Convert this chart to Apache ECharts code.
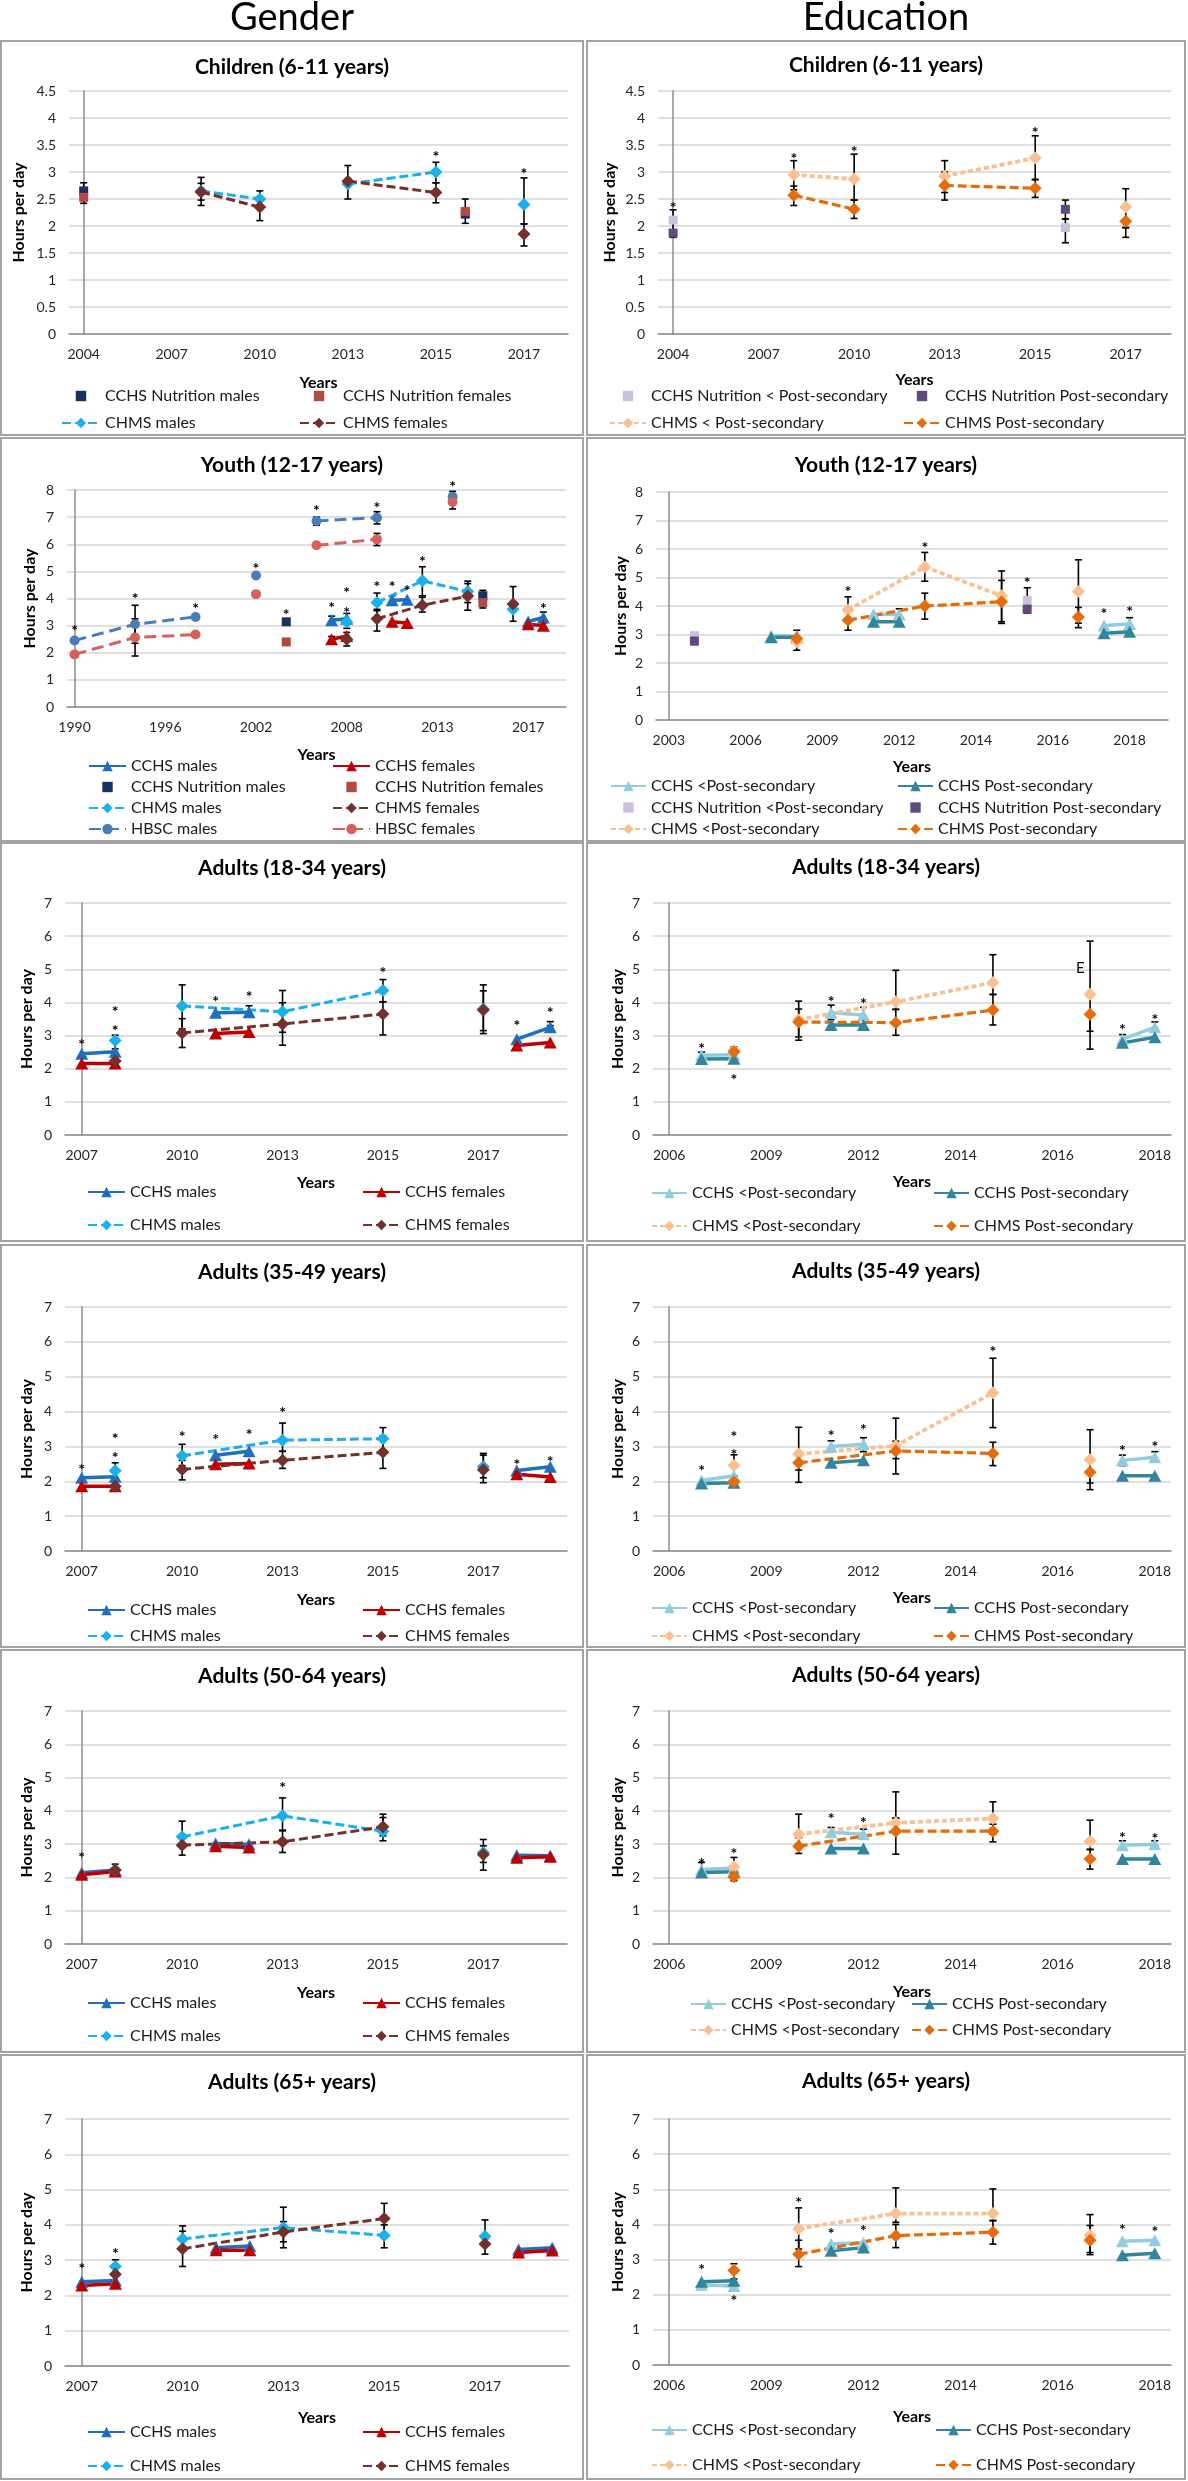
<!DOCTYPE html>
<html><head><meta charset="utf-8">
<script src="https://cdn.jsdelivr.net/npm/echarts@6/dist/echarts.min.js"></script>
<style>html,body{margin:0;padding:0;background:#fff}#c{width:1188px;height:2481px}</style>
</head><body><div id="c"></div><script>
// ---------- tick labels ----------
const lblChildren = ['2004','2007','2010','2013','2015','2017'];
const lblYouthG = ['1990','1996','2002','2008','2013','2017'];
const lblYouthE = ['2003','2006','2009','2012','2014','2016','2018'];
const lblAdultG = ['2007','2010','2013','2015','2017'];
const lblAdultE = ['2006','2009','2012','2014','2016','2018'];

// ---------- Children (6-11), gender ----------
const child_g_nutM = [[0,2.65],[13,2.22]];
const child_g_nutF = [[0,2.53],[13,2.27]];
const child_g_chmsM = [[4,2.65],[6,2.5],[7,null],[9,2.78],[12,3.0],[13,null],[15,2.4]];
const child_g_chmsF = [[4,2.63],[6,2.35],[7,null],[9,2.83],[12,2.62],[13,null],[15,1.85]];
const child_g_err = [[0,2.42,2.8],[4,2.38,2.9],[4,2.48,2.79],[6,2.37,2.65],[6,2.1,2.5],[9,2.5,3.12],[12,2.8,3.18],[12,2.43,2.8],[13,2.05,2.5],[15,2.04,2.89],[15,1.63,2.04]];
const child_g_star = [[12,3.35],[15,3.04]];

// ---------- Children (6-11), education ----------
const child_e_nutLow = [[0,2.11],[13,1.97]];
const child_e_nutPS = [[0,1.87],[13,2.31]];
const child_e_chmsLow = [[4,2.95],[6,2.87],[7,null],[9,2.92],[12,3.26],[13,null],[15,2.35]];
const child_e_chmsPS = [[4,2.57],[6,2.31],[7,null],[9,2.75],[12,2.7],[13,null],[15,2.09]];
const child_e_err = [[0,1.79,2.3],[4,2.67,3.21],[4,2.38,2.74],[6,2.48,3.33],[6,2.14,2.48],[9,2.62,3.21],[9,2.48,3.0],[12,2.86,3.67],[12,2.53,2.86],[13,2.13,2.48],[13,1.69,2.13],[15,1.97,2.69],[15,1.79,1.97]];
const child_e_star = [[0,2.41],[4,3.31],[6,3.45],[12,3.79]];

// ---------- Youth (12-17), gender ----------
const youth_g_cchsM = [[17,3.2],[18,3.25],[19,null],[21,3.94],[22,3.95],[23,null],[30,3.15],[31,3.3]];
const youth_g_cchsF = [[17,2.5],[18,2.62],[19,null],[21,3.14],[22,3.1],[23,null],[30,3.05],[31,3.0]];
const youth_g_nutM = [[14,3.14],[27,4.1]];
const youth_g_nutF = [[14,2.4],[27,3.85]];
const youth_g_chmsM = [[18,3.13],[19,null],[20,3.85],[23,4.65],[26,4.26],[27,null],[29,3.6]];
const youth_g_chmsF = [[18,2.5],[19,null],[20,3.25],[23,3.75],[26,4.09],[27,null],[29,3.8]];
const youth_g_hbscM = [[0,2.45],[4,3.05],[8,3.32],[9,null],[12,4.85],[13,null],[16,6.86],[20,6.98],[21,null],[25,7.75]];
const youth_g_hbscF = [[0,1.94],[4,2.56],[8,2.67],[9,null],[12,4.16],[13,null],[16,5.96],[20,6.18],[21,null],[25,7.56]];
const youth_g_err = [[4,2.35,3.75],[4,1.88,3.25],[17,3.05,3.35],[17,2.4,2.6],[18,2.9,3.45],[18,2.25,2.75],[16,6.7,7.0],[20,6.75,7.2],[20,5.95,6.4],[25,7.6,7.95],[25,7.3,7.7],[20,3.55,4.2],[20,2.8,3.6],[21,3.75,4.1],[23,4.1,5.17],[23,3.5,4.05],[26,3.85,4.64],[26,3.57,4.55],[27,3.65,4.3],[29,3.16,4.44],[31,3.1,3.5]];
const youth_g_star = [[0,2.95],[4,4.12],[8,3.78],[12,5.23],[14,3.53],[16,7.38],[17,3.79],[18,4.34],[18,3.63],[20,7.48],[20,4.58],[21,4.58],[22,4.43],[23,5.51],[25,8.28],[31,3.78]];

// ---------- Youth (12-17), education ----------
const youth_e_cchsLow = [[4,2.96],[5,2.95],[6,null],[8,3.71],[9,3.7],[10,null],[17,3.32],[18,3.37]];
const youth_e_cchsPS = [[4,2.9],[5,2.9],[6,null],[8,3.45],[9,3.45],[10,null],[17,3.04],[18,3.1]];
const youth_e_nutLow = [[1,2.96],[14,4.2]];
const youth_e_nutPS = [[1,2.77],[14,3.89]];
const youth_e_chmsLow = [[5,2.75],[6,null],[7,3.86],[10,5.37],[13,4.36],[14,null],[16,4.51]];
const youth_e_chmsPS = [[5,2.86],[6,null],[7,3.5],[10,4.0],[13,4.15],[14,null],[16,3.61]];
const youth_e_err = [[1,2.65,3.05],[5,2.45,3.15],[7,3.15,4.32],[9,3.3,3.9],[10,4.87,5.88],[10,3.54,4.45],[13,3.45,5.23],[13,3.39,4.9],[14,3.75,4.64],[16,3.4,5.62],[16,3.24,3.95],[18,3.0,3.59]];
const youth_e_star = [[7,4.65],[10,6.17],[14,4.94],[17,3.86],[18,3.95]];

// ---------- Adults (18-34), gender ----------
const a1834_g_cchsM = [[0,2.45],[1,2.51],[2,null],[4,3.69],[5,3.7],[6,null],[13,2.89],[14,3.25]];
const a1834_g_cchsF = [[0,2.16],[1,2.16],[2,null],[4,3.06],[5,3.11],[6,null],[13,2.7],[14,2.79]];
const a1834_g_chmsM = [[1,2.85],[2,null],[3,3.89],[6,3.72],[9,4.36],[10,null],[12,3.8]];
const a1834_g_chmsF = [[1,2.23],[2,null],[3,3.08],[6,3.35],[9,3.65],[10,null],[12,3.77]];
const a1834_g_err = [[1,2.6,3.01],[1,2.05,2.4],[3,3.2,4.53],[3,2.64,3.51],[5,3.65,3.9],[6,3.1,4.36],[6,2.71,3.99],[9,4.02,4.69],[9,3.02,4.02],[12,3.15,4.53],[12,3.06,4.35],[14,3.3,3.42]];
const a1834_g_star = [[0,2.84],[1,3.84],[1,3.26],[4,4.14],[5,4.3],[9,5.01],[13,3.41],[14,3.82]];

// ---------- Adults (18-34), education ----------
const a1834_e_cchsLow = [[1,2.41],[2,2.42],[3,null],[5,3.69],[6,3.62],[7,null],[14,2.89],[15,3.25]];
const a1834_e_cchsPS = [[1,2.29],[2,2.3],[3,null],[5,3.32],[6,3.32],[7,null],[14,2.78],[15,2.95]];
const a1834_e_chmsLow = [[2,2.55],[3,null],[4,3.48],[7,4.02],[10,4.6],[11,null],[13,4.25]];
const a1834_e_chmsPS = [[2,2.51],[3,null],[4,3.41],[7,3.39],[10,3.77],[11,null],[13,3.64]];
const a1834_e_err = [[1,2.35,2.5],[2,2.35,2.66],[4,2.96,4.04],[4,2.86,3.8],[5,3.48,3.92],[6,3.5,3.85],[7,3.79,4.97],[7,3.01,3.79],[10,4.24,5.44],[10,3.32,4.24],[13,2.59,5.85],[13,3.13,3.64],[14,2.75,3.03],[15,3.1,3.41]];
const a1834_e_star = [[1,2.71],[2,1.79],[5,4.14],[6,4.07],[14,3.3],[15,3.59]];
const a1834_e_flag = [[12.7,5.04]];

// ---------- Adults (35-49), gender ----------
const a3549_g_cchsM = [[0,2.1],[1,2.13],[2,null],[4,2.75],[5,2.86],[6,null],[13,2.31],[14,2.42]];
const a3549_g_cchsF = [[0,1.86],[1,1.86],[2,null],[4,2.49],[5,2.51],[6,null],[13,2.2],[14,2.12]];
const a3549_g_chmsM = [[1,2.3],[2,null],[3,2.73],[6,3.18],[9,3.22],[10,null],[12,2.42]];
const a3549_g_chmsF = [[1,1.86],[2,null],[3,2.34],[6,2.6],[9,2.83],[10,null],[12,2.33]];
const a3549_g_err = [[1,2.1,2.53],[1,1.72,2.0],[3,2.45,3.06],[3,2.04,2.6],[6,2.86,3.67],[6,2.37,2.86],[9,2.9,3.54],[9,2.37,3.3],[12,2.1,2.8],[12,1.96,2.75]];
const a3549_g_star = [[0,2.45],[1,3.33],[1,2.78],[3,3.39],[4,3.31],[5,3.44],[6,4.07],[13,2.6],[14,2.68]];

// ---------- Adults (35-49), education ----------
const a3549_e_cchsLow = [[1,2.02],[2,2.16],[3,null],[5,3.0],[6,3.06],[7,null],[14,2.6],[15,2.69]];
const a3549_e_cchsPS = [[1,1.94],[2,1.96],[3,null],[5,2.53],[6,2.6],[7,null],[14,2.16],[15,2.16]];
const a3549_e_chmsLow = [[2,2.45],[3,null],[4,2.78],[7,3.02],[10,4.54],[11,null],[13,2.62]];
const a3549_e_chmsPS = [[2,1.99],[3,null],[4,2.53],[7,2.87],[10,2.8],[11,null],[13,2.26]];
const a3549_e_err = [[2,2.15,2.76],[2,1.85,2.15],[4,2.32,3.55],[4,1.97,2.85],[5,2.85,3.16],[6,2.85,3.25],[7,2.65,3.81],[7,2.21,3.15],[10,3.54,5.53],[10,2.45,3.12],[13,1.95,3.48],[13,1.76,2.6],[14,2.45,2.75],[15,2.55,2.85]];
const a3549_e_star = [[1,2.4],[2,3.38],[2,2.86],[5,3.43],[6,3.58],[10,5.83],[14,2.98],[15,3.09]];

// ---------- Adults (50-64), gender ----------
const a5064_g_cchsM = [[0,2.14],[1,2.22],[2,null],[4,3.02],[5,3.0],[6,null],[13,2.67],[14,2.65]];
const a5064_g_cchsF = [[0,2.08],[1,2.18],[2,null],[4,2.94],[5,2.9],[6,null],[13,2.59],[14,2.62]];
const a5064_g_chmsM = [[1,2.22],[2,null],[3,3.22],[6,3.85],[9,3.39],[10,null],[12,2.75]];
const a5064_g_chmsF = [[1,2.22],[2,null],[3,2.97],[6,3.07],[9,3.52],[10,null],[12,2.69]];
const a5064_g_err = [[1,2.1,2.4],[3,2.67,3.69],[6,3.42,4.39],[6,2.75,3.4],[9,3.1,3.9],[9,3.25,3.8],[12,2.45,3.14],[12,2.22,2.95]];
const a5064_g_star = [[0,2.72],[6,4.82]];

// ---------- Adults (50-64), education ----------
const a5064_e_cchsLow = [[1,2.24],[2,2.28],[3,null],[5,3.36],[6,3.3],[7,null],[14,2.97],[15,3.0]];
const a5064_e_cchsPS = [[1,2.15],[2,2.17],[3,null],[5,2.87],[6,2.87],[7,null],[14,2.55],[15,2.55]];
const a5064_e_chmsLow = [[2,2.32],[3,null],[4,3.3],[7,3.64],[10,3.77],[11,null],[13,3.09]];
const a5064_e_chmsPS = [[2,2.02],[3,null],[4,2.94],[7,3.39],[10,3.39],[11,null],[13,2.55]];
const a5064_e_err = [[1,2.2,2.45],[2,2.1,2.6],[2,1.9,2.2],[4,3.2,3.9],[4,2.72,3.2],[5,3.25,3.5],[6,3.2,3.45],[7,3.78,4.57],[7,2.7,3.78],[10,3.3,4.27],[10,3.07,3.6],[13,2.84,3.72],[13,2.25,2.84],[14,2.9,3.1],[15,2.95,3.1]];
const a5064_e_star = [[1,2.52],[2,2.84],[5,3.87],[6,3.75],[14,3.32],[15,3.29]];

// ---------- Adults (65+), gender ----------
const a65_g_cchsM = [[0,2.39],[1,2.42],[2,null],[4,3.35],[5,3.4],[6,null],[13,3.3],[14,3.35]];
const a65_g_cchsF = [[0,2.28],[1,2.33],[2,null],[4,3.28],[5,3.28],[6,null],[13,3.22],[14,3.27]];
const a65_g_chmsM = [[1,2.82],[2,null],[3,3.6],[6,3.92],[9,3.7],[10,null],[12,3.68]];
const a65_g_chmsF = [[1,2.6],[2,null],[3,3.32],[6,3.8],[9,4.18],[10,null],[12,3.46]];
const a65_g_err = [[1,2.6,3.01],[3,3.3,3.97],[3,2.82,3.82],[6,3.52,4.5],[6,3.35,4.09],[9,3.7,4.61],[9,3.35,4.0],[12,3.4,4.14],[12,3.17,3.6]];
const a65_g_star = [[0,2.87],[1,3.28]];

// ---------- Adults (65+), education ----------
const a65_e_cchsLow = [[1,2.28],[2,2.25],[3,null],[5,3.44],[6,3.48],[7,null],[14,3.52],[15,3.55]];
const a65_e_cchsPS = [[1,2.37],[2,2.4],[3,null],[5,3.25],[6,3.34],[7,null],[14,3.12],[15,3.18]];
const a65_e_chmsLow = [[2,2.7],[3,null],[4,3.88],[7,4.31],[10,4.31],[11,null],[13,3.69]];
const a65_e_chmsPS = [[2,2.69],[3,null],[4,3.15],[7,3.68],[10,3.78],[11,null],[13,3.55]];
const a65_e_err = [[2,2.45,2.88],[4,3.3,4.47],[4,2.8,3.55],[7,4.06,5.04],[7,3.34,4.0],[10,4.11,5.01],[10,3.44,4.11],[13,3.2,4.28],[13,3.14,3.97]];
const a65_e_star = [[1,2.82],[2,1.94],[4,4.74],[5,3.85],[6,3.93],[14,3.95],[15,3.9]];

// ---------- styles ----------
const FONT = "Lato, 'Open Sans', 'DejaVu Sans', sans-serif";
const STY = {
  cchsM:   {kind:'tri', color:'#1F6FC0'},
  cchsF:   {kind:'tri', color:'#C00000'},
  nutM:    {kind:'sq',  color:'#17325C'},
  nutF:    {kind:'sq',  color:'#B24A42'},
  chmsM:   {kind:'dia', color:'#1AB0EC', dash:[9,4], w:3},
  chmsF:   {kind:'dia', color:'#74302B', dash:[9,4], w:3},
  hbscM:   {kind:'circ', color:'#4A7DB8', dash:[12,6], w:3},
  hbscF:   {kind:'circ', color:'#D6605A', dash:[12,6], w:3},
  cchsLow: {kind:'tri', color:'#93CDDD'},
  cchsPS:  {kind:'tri', color:'#31859C'},
  nutLow:  {kind:'sq',  color:'#CCC1DA'},
  nutPS:   {kind:'sq',  color:'#604A7B'},
  chmsLow: {kind:'dia', color:'#FAC090', dash:[5,3], w:3.8},
  chmsPS:  {kind:'dia', color:'#E46C0A', dash:[9,4], w:3.2}
};

const LG_G = {L:['CCHS males','CHMS males'], R:['CCHS females','CHMS females']};
const LG_E = {L:['CCHS <Post-secondary','CHMS <Post-secondary'], R:['CCHS Post-secondary','CHMS Post-secondary']};

function adultG(c){ return [['CCHS males','cchsM',c[0]],['CCHS females','cchsF',c[1]],['CHMS males','chmsM',c[2]],['CHMS females','chmsF',c[3]]]; }
function adultE(c){ return [['CCHS <Post-secondary','cchsLow',c[0]],['CCHS Post-secondary','cchsPS',c[1]],['CHMS <Post-secondary','chmsLow',c[2]],['CHMS Post-secondary','chmsPS',c[3]]]; }

const LEFT = [1,582], RIGHT = [587,598];
const PANELS = [
 {col:LEFT, row:[41,394], grid:[69,91,568,334], title:'Children (6-11 years)', ty:67, labels:lblChildren, step:3, n:17, ymax:4.5, yint:0.5, xGap:41, yGap:42,
  leg:{lx:61, rx:299, iw:38, y1:396, pitch:27, L:['CCHS Nutrition males','CHMS males'], R:['CCHS Nutrition females','CHMS females']},
  series:[['CCHS Nutrition males','nutM',child_g_nutM],['CCHS Nutrition females','nutF',child_g_nutF],['CHMS males','chmsM',child_g_chmsM],['CHMS females','chmsF',child_g_chmsF]],
  err:child_g_err, star:child_g_star},
 {col:RIGHT, row:[41,394], grid:[658,91,1171,334], title:'Children (6-11 years)', ty:65, labels:lblChildren, step:3, n:17, ymax:4.5, yint:0.5, xGap:38, yGap:40,
  leg:{lx:609, rx:903, iw:36, y1:396, pitch:27, L:['CCHS Nutrition < Post-secondary','CHMS < Post-secondary'], R:['CCHS Nutrition Post-secondary','CHMS Post-secondary']},
  series:[['CCHS Nutrition < Post-secondary','nutLow',child_e_nutLow],['CCHS Nutrition Post-secondary','nutPS',child_e_nutPS],['CHMS < Post-secondary','chmsLow',child_e_chmsLow],['CHMS Post-secondary','chmsPS',child_e_chmsPS]],
  err:child_e_err, star:child_e_star},
 {col:LEFT, row:[438,403], grid:[67,490,566,707], title:'Youth (12-17 years)', ty:465, labels:lblYouthG, step:6, n:33, ymax:8, yint:1, xGap:40, yGap:29,
  leg:{lx:88, rx:332, iw:37, y1:766, pitch:21, L:['CCHS males','CCHS Nutrition males','CHMS males','HBSC males'], R:['CCHS females','CCHS Nutrition females','CHMS females','HBSC females']},
  series:[['CCHS males','cchsM',youth_g_cchsM],['CCHS females','cchsF',youth_g_cchsF],['CCHS Nutrition males','nutM',youth_g_nutM],['CCHS Nutrition females','nutF',youth_g_nutF],['CHMS males','chmsM',youth_g_chmsM],['CHMS females','chmsF',youth_g_chmsF],['HBSC males','hbscM',youth_g_hbscM],['HBSC females','hbscF',youth_g_hbscF]],
  err:youth_g_err, star:youth_g_star},
 {col:RIGHT, row:[438,403], grid:[656,492,1168,720], title:'Youth (12-17 years)', ty:465, labels:lblYouthE, step:3, n:20, ymax:8, yint:1, xGap:39, yGap:27,
  leg:{lx:610, rx:897, iw:35, y1:786, pitch:21.5, L:['CCHS <Post-secondary','CCHS Nutrition <Post-secondary','CHMS <Post-secondary'], R:['CCHS Post-secondary','CCHS Nutrition Post-secondary','CHMS Post-secondary']},
  series:[['CCHS <Post-secondary','cchsLow',youth_e_cchsLow],['CCHS Post-secondary','cchsPS',youth_e_cchsPS],['CCHS Nutrition <Post-secondary','nutLow',youth_e_nutLow],['CCHS Nutrition Post-secondary','nutPS',youth_e_nutPS],['CHMS <Post-secondary','chmsLow',youth_e_chmsLow],['CHMS Post-secondary','chmsPS',youth_e_chmsPS]],
  err:youth_e_err, star:youth_e_star},
 {col:LEFT, row:[843,398], grid:[65,903,567,1135], title:'Adults (18-34 years)', ty:868, labels:lblAdultG, step:3, n:15, ymax:7, yint:1, xGap:40, yGap:30,
  leg:Object.assign({lx:87, rx:362, iw:37, y1:1192, pitch:33}, LG_G),
  series:adultG([a1834_g_cchsM,a1834_g_cchsF,a1834_g_chmsM,a1834_g_chmsF]), err:a1834_g_err, star:a1834_g_star},
 {col:RIGHT, row:[843,398], grid:[653,903,1171,1135], title:'Adults (18-34 years)', ty:867, labels:lblAdultE, step:3, n:16, ymax:7, yint:1, xGap:39, yGap:27,
  leg:Object.assign({lx:651, rx:933, iw:35, y1:1193, pitch:33}, LG_E),
  series:adultE([a1834_e_cchsLow,a1834_e_cchsPS,a1834_e_chmsLow,a1834_e_chmsPS]), err:a1834_e_err, star:a1834_e_star, flag:a1834_e_flag},
 {col:LEFT, row:[1245,402], grid:[65,1307,567,1551], title:'Adults (35-49 years)', ty:1272, labels:lblAdultG, step:3, n:15, ymax:7, yint:1, xGap:41, yGap:30,
  leg:Object.assign({lx:87, rx:362, iw:37, y1:1610, pitch:26}, LG_G),
  series:adultG([a3549_g_cchsM,a3549_g_cchsF,a3549_g_chmsM,a3549_g_chmsF]), err:a3549_g_err, star:a3549_g_star},
 {col:RIGHT, row:[1245,402], grid:[653,1307,1171,1551], title:'Adults (35-49 years)', ty:1271, labels:lblAdultE, step:3, n:16, ymax:7, yint:1, xGap:39, yGap:27,
  leg:Object.assign({lx:651, rx:933, iw:35, y1:1608, pitch:28}, LG_E),
  series:adultE([a3549_e_cchsLow,a3549_e_cchsPS,a3549_e_chmsLow,a3549_e_chmsPS]), err:a3549_e_err, star:a3549_e_star},
 {col:LEFT, row:[1650,402], grid:[65,1711,567,1944], title:'Adults (50-64 years)', ty:1676, labels:lblAdultG, step:3, n:15, ymax:7, yint:1, xGap:41, yGap:30,
  leg:Object.assign({lx:87, rx:362, iw:37, y1:2003, pitch:33}, LG_G),
  series:adultG([a5064_g_cchsM,a5064_g_cchsF,a5064_g_chmsM,a5064_g_chmsF]), err:a5064_g_err, star:a5064_g_star},
 {col:RIGHT, row:[1650,402], grid:[653,1711,1171,1944], title:'Adults (50-64 years)', ty:1675, labels:lblAdultE, step:3, n:16, ymax:7, yint:1, xGap:40, yGap:27,
  leg:Object.assign({lx:690, rx:911, iw:35, y1:2004, pitch:26}, LG_E),
  series:adultE([a5064_e_cchsLow,a5064_e_cchsPS,a5064_e_chmsLow,a5064_e_chmsPS]), err:a5064_e_err, star:a5064_e_star},
 {col:LEFT, row:[2055,424], grid:[65,2119,569,2366], title:'Adults (65+ years)', ty:2082, labels:lblAdultG, step:3, n:15, ymax:7, yint:1, xGap:44, yGap:30,
  leg:Object.assign({lx:87, rx:362, iw:37, y1:2432, pitch:34}, LG_G),
  series:adultG([a65_g_cchsM,a65_g_cchsF,a65_g_chmsM,a65_g_chmsF]), err:a65_g_err, star:a65_g_star},
 {col:RIGHT, row:[2055,424], grid:[653,2119,1171,2365], title:'Adults (65+ years)', ty:2081, labels:lblAdultE, step:3, n:16, ymax:7, yint:1, xGap:44, yGap:27,
  leg:Object.assign({lx:651, rx:935, iw:35, y1:2430, pitch:35}, LG_E),
  series:adultE([a65_e_cchsLow,a65_e_cchsPS,a65_e_chmsLow,a65_e_chmsPS]), err:a65_e_err, star:a65_e_star}
];

function lineSeries(name, key, data, gi){
  const s = STY[key];
  const base = {type:'line', name, data, xAxisIndex:gi, yAxisIndex:gi, connectNulls:false, z:3,
    itemStyle:{color:s.color}, emphasis:{disabled:true}};
  if (s.kind === 'tri') Object.assign(base, {symbol:'triangle', symbolSize:[13,12], lineStyle:{color:s.color, width:3.5, type:'solid'}});
  if (s.kind === 'dia') Object.assign(base, {symbol:'diamond', symbolSize:13, lineStyle:{color:s.color, width:s.w, type:s.dash}});
  if (s.kind === 'circ') Object.assign(base, {symbol:'circle', symbolSize:10, lineStyle:{color:s.color, width:s.w, type:s.dash}});
  if (s.kind === 'sq') Object.assign(base, {symbol:'rect', symbolSize:9, lineStyle:{color:'rgba(0,0,0,0)', width:0}});
  return base;
}

function errRender(params, api){
  const x = api.value(0), lo = api.value(1), hi = api.value(2);
  const a = api.coord([x, lo]), b = api.coord([x, hi]);
  const w = 3.5, st = {stroke:'#000', lineWidth:1.6};
  return {type:'group', children:[
    {type:'line', shape:{x1:a[0], y1:a[1], x2:b[0], y2:b[1]}, style:st},
    {type:'line', shape:{x1:a[0]-w, y1:a[1], x2:a[0]+w, y2:a[1]}, style:st},
    {type:'line', shape:{x1:b[0]-w, y1:b[1], x2:b[0]+w, y2:b[1]}, style:st}]};
}
function textRender(txt, size, weight, dy){
  return function(params, api){
    const p = api.coord([api.value(0), api.value(1)]);
    return {type:'text', x:p[0], y:p[1] + dy, style:{text:txt, fill:'#000', fontSize:size, fontWeight:weight, fontFamily:FONT, align:'center', verticalAlign:'middle'}};
  };
}

const option = {animation:false, backgroundColor:'#fff', grid:[], xAxis:[], yAxis:[], series:[], legend:[], graphic:[]};
option.graphic.push({type:'text', x:292, y:18, silent:true, style:{text:'Gender', fontSize:38, fontFamily:FONT, fill:'#000', align:'center', verticalAlign:'middle'}});
option.graphic.push({type:'text', x:886, y:18, silent:true, style:{text:'Education', fontSize:38, fontFamily:FONT, fill:'#000', align:'center', verticalAlign:'middle'}});

PANELS.forEach((p, i) => {
  const [gl, gt, gr, gb] = p.grid;
  option.graphic.push({type:'rect', silent:true, z:-1, shape:{x:p.col[0], y:p.row[0], width:p.col[1], height:p.row[1]}, style:{fill:'none', stroke:'#A3A3A3', lineWidth:2}});
  option.graphic.push({type:'text', silent:true, x:p.col[0] + p.col[1]/2, y:p.ty, style:{text:p.title, fontSize:21, fontWeight:'bold', fontFamily:FONT, fill:'#000', align:'center', verticalAlign:'middle'}});
  option.grid.push({left:gl, top:gt, width:gr-gl, height:gb-gt, outerBoundsMode:'none', containLabel:false});
  const labels = p.labels, step = p.step;
  option.xAxis.push({type:'value', gridIndex:i, min:-0.5, max:p.n-0.5,
    name:'Years', nameLocation:'middle', nameGap:p.xGap,
    nameTextStyle:{fontFamily:FONT, fontWeight:'bold', fontSize:16, color:'#000'},
    axisLine:{show:true, onZero:false, lineStyle:{color:'#8C8C8C', width:1.5}},
    axisTick:{show:false}, splitLine:{show:false},
    axisLabel:{customValues:labels.map((_, k) => k*step), formatter:v => labels[Math.round(v/step)],
      margin:13, fontFamily:FONT, fontSize:14, color:'#262626'}});
  option.yAxis.push({type:'value', gridIndex:i, min:0, max:p.ymax, interval:p.yint,
    name:'Hours per day', nameLocation:'middle', nameGap:p.yGap,
    nameTextStyle:{fontFamily:FONT, fontWeight:'bold', fontSize:16, color:'#000'},
    axisLine:{show:true, lineStyle:{color:'#8C8C8C', width:1.5}}, axisTick:{show:false},
    splitLine:{lineStyle:{color:'#D6D6D6', width:1.5}},
    axisLabel:{margin:13, fontFamily:FONT, fontSize:14, color:'#262626'}});
  option.series.push({type:'custom', name:'err'+i, xAxisIndex:i, yAxisIndex:i, z:2, silent:true,
    encode:{x:0, y:[1,2]}, data:p.err, renderItem:errRender});
  p.series.forEach(s => option.series.push(lineSeries(s[0], s[1], s[2], i)));
  option.series.push({type:'custom', name:'star'+i, xAxisIndex:i, yAxisIndex:i, z:4, silent:true,
    encode:{x:0, y:1}, data:p.star, renderItem:textRender('*', 16, 'bold', 4)});
  if (p.flag) option.series.push({type:'custom', name:'flag'+i, xAxisIndex:i, yAxisIndex:i, z:4, silent:true,
    encode:{x:0, y:1}, data:p.flag, renderItem:textRender('E', 15, 'normal', 0)});
  const L = p.leg, fs = 16;
  [[L.lx, L.L], [L.rx, L.R]].forEach(([x, names]) => {
    option.legend.push({left:x, top:L.y1 - fs/2, orient:'vertical', padding:0, itemGap:L.pitch - fs,
      itemWidth:L.iw, itemHeight:13, selectedMode:false, data:names,
      textStyle:{fontFamily:FONT, fontSize:fs, color:'#1a1a1a', padding:[0,0,0,0]}});
  });
});

const chart = echarts.init(document.getElementById('c'), null, {renderer:'canvas'});
chart.setOption(option);
</script></body></html>
